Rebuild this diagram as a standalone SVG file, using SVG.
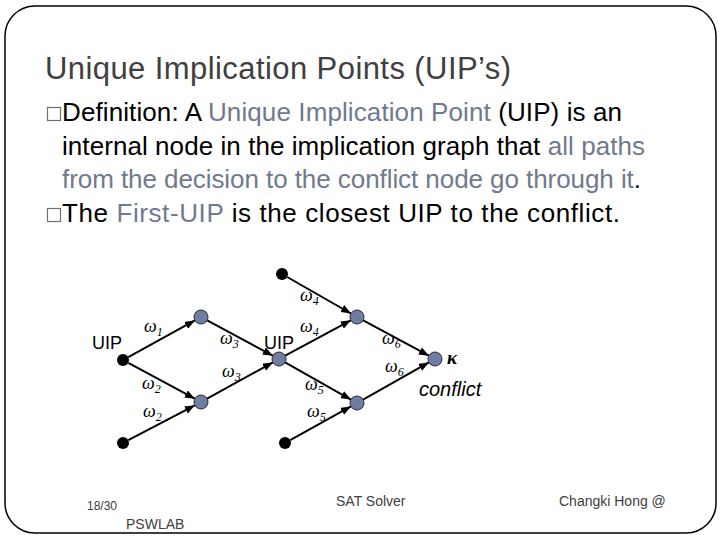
<svg xmlns="http://www.w3.org/2000/svg" width="720" height="540" viewBox="0 0 720 540">
<style>
.title{font-family:"Liberation Sans",Arial,sans-serif;font-size:31px;fill:#404040}
.body{font-family:"Liberation Sans",Arial,sans-serif;font-size:26px;fill:#000}
.hl{fill:#6F7A8E}
.bul{fill:none;stroke:#707070;stroke-width:1.2}
.lbl{font-family:"Liberation Sans",Arial,sans-serif;font-size:18px;fill:#000}
.w{font-family:"Liberation Serif","Times New Roman",serif;font-style:italic;font-size:18px;fill:#000}
.sub{font-size:12px}
.blk{fill:#000}
.gry{fill:#6F7DA3;stroke:#2a2a2a;stroke-width:1}
.edge{stroke:#000;stroke-width:2;fill:none;marker-end:url(#ah)}
.foot{font-family:"Liberation Sans",Arial,sans-serif;font-size:14px;fill:#404040}
</style>
<defs>
<marker id="ah" markerUnits="userSpaceOnUse" markerWidth="11" markerHeight="8" refX="10" refY="4" orient="auto">
<path d="M0,0 L10,4 L0,8 z" fill="#000"/>
</marker>
</defs>
<rect x="5" y="6" width="711" height="527" rx="30" ry="30" fill="#fff" stroke="#000" stroke-width="1.5"/>
<g id="title"><text class="title" x="45" y="79" textLength="466" lengthAdjust="spacing">Unique Implication Points (UIP’s)</text></g>
<g id="bullets">
<rect class="bul" x="47.5" y="107.5" width="13" height="13"/>
<text class="body" x="62" y="121" textLength="560" lengthAdjust="spacing">Definition: A <tspan class="hl">Unique Implication Point</tspan> (UIP) is an</text>
<text class="body" x="62" y="155" textLength="583" lengthAdjust="spacing">internal node in the implication graph that <tspan class="hl">all paths</tspan></text>
<text class="body" x="62" y="188" textLength="579" lengthAdjust="spacing"><tspan class="hl">from the decision to the conflict node go through it</tspan>.</text>
<rect class="bul" x="47.5" y="208.5" width="13" height="13"/>
<text class="body" x="62" y="222" textLength="558" lengthAdjust="spacing">The <tspan class="hl">First-UIP</tspan> is the closest UIP to the conflict.</text>
</g>
<g id="connectors">
<line class="edge" x1="128.3" y1="357.1" x2="194.9" y2="320.4"/>
<line class="edge" x1="128.3" y1="362.8" x2="194.8" y2="398.7"/>
<line class="edge" x1="128.3" y1="440.2" x2="194.8" y2="405.3"/>
<line class="edge" x1="207.2" y1="320.3" x2="272.8" y2="355.7"/>
<line class="edge" x1="207.1" y1="398.6" x2="272.9" y2="362.4"/>
<line class="edge" x1="287.2" y1="277" x2="350.9" y2="313.5"/>
<line class="edge" x1="285.2" y1="355.7" x2="350.8" y2="320.3"/>
<line class="edge" x1="285.1" y1="362.4" x2="350.9" y2="399.6"/>
<line class="edge" x1="290.2" y1="440.1" x2="350.9" y2="406.4"/>
<line class="edge" x1="363.2" y1="320.3" x2="428.8" y2="355.7"/>
<line class="edge" x1="363.1" y1="399.6" x2="428.9" y2="362.4"/>
</g>
<g id="edge-labels">
<text class="w" x="144" y="332">ω<tspan class="sub" dy="4">1</tspan></text>
<text class="w" x="220" y="344">ω<tspan class="sub" dy="4">3</tspan></text>
<text class="w" x="142" y="389">ω<tspan class="sub" dy="4">2</tspan></text>
<text class="w" x="222" y="377">ω<tspan class="sub" dy="4">3</tspan></text>
<text class="w" x="143" y="417">ω<tspan class="sub" dy="4">2</tspan></text>
<text class="w" x="300" y="301">ω<tspan class="sub" dy="4">4</tspan></text>
<text class="w" x="300" y="332">ω<tspan class="sub" dy="4">4</tspan></text>
<text class="w" x="382" y="344">ω<tspan class="sub" dy="4">6</tspan></text>
<text class="w" x="385" y="372">ω<tspan class="sub" dy="4">6</tspan></text>
<text class="w" x="305" y="390">ω<tspan class="sub" dy="4">5</tspan></text>
<text class="w" x="307" y="417">ω<tspan class="sub" dy="4">5</tspan></text>
</g>
<g id="n-uip1"><circle class="blk" cx="123" cy="360" r="6"/><text class="lbl" x="92" y="349">UIP</text></g>
<g id="n-dec2"><circle class="blk" cx="123" cy="443" r="6"/></g>
<g id="n-g1"><circle class="gry" cx="201" cy="317" r="7"/></g>
<g id="n-g2"><circle class="gry" cx="201" cy="402" r="7"/></g>
<g id="n-uip2"><circle class="gry" cx="279" cy="359" r="7"/><text class="lbl" x="264" y="349">UIP</text></g>
<g id="n-dec4"><circle class="blk" cx="282" cy="274" r="6"/></g>
<g id="n-dec5"><circle class="blk" cx="285" cy="443" r="6"/></g>
<g id="n-g3"><circle class="gry" cx="357" cy="317" r="7"/></g>
<g id="n-g4"><circle class="gry" cx="357" cy="403" r="7"/></g>
<g id="n-conflict"><circle class="gry" cx="435" cy="359" r="7"/>
<text class="w" x="447" y="364" style="font-size:19px;font-weight:bold">κ</text>
<text x="419" y="396" style="font-family:'Liberation Sans',Arial,sans-serif;font-style:italic;font-size:20px;fill:#000">conflict</text></g>
<g id="footer">
<text class="foot" x="87" y="510" style="font-size:12px">18/30</text>
<text class="foot" x="126" y="529">PSWLAB</text>
<text class="foot" x="336" y="506">SAT Solver</text>
<text class="foot" x="559" y="506">Changki Hong @</text>
</g>
</svg>
